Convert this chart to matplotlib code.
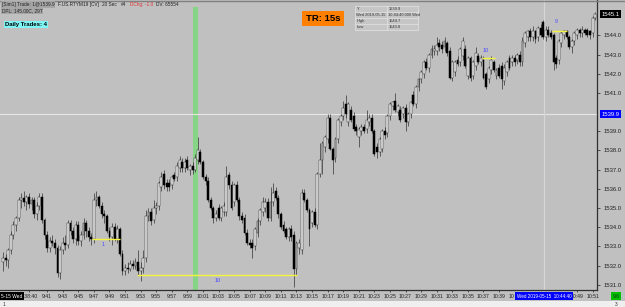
import matplotlib
matplotlib.use("Agg")
import matplotlib.pyplot as plt
from matplotlib.patches import Rectangle
from matplotlib.transforms import blended_transform_factory
import numpy as np

plt.rcParams['font.family'] = ['Liberation Sans', 'DejaVu Sans']

# ---------------- data ----------------
opens = [1532.2,1532.4,1532.3,1532.8,1533.6,1534.1,1534.5,1535.4,1535.5,1535.3,
         1535.6,1535.2,1535.4,1534.7,1535.1,1535.6,1534.4,1533.6,1532.9,1533.3,
         1533.2,1532.9,1531.6,1532.8,1533.2,1533.1,1534.2,1533.8,1533.4,1534.1,
         1533.3,1533.6,1534.2,1533.8,1533.5,1533.4,1535.4,1535.6,1535.1,1534.7,
         1534.6,1533.8,1533.5,1534.0,1533.4,1533.9,1532.6,1531.7,1531.9,1531.8,
         1532.1,1532.0,1532.2,1531.7,1531.9,1532.4,1534.6,1534.8,1534.4,1535.0,
         1535.1,1536.1,1536.8,1536.3,1536.3,1536.2,1536.7,1536.6,1537.1,1537.4,
         1537.1,1537.5,1537.0,1537.2,1537.0,1537.5,1537.9,1537.4,1536.6,1536.4,
         1535.4,1535.0,1534.5,1535.0,1534.5,1534.8,1534.8,1536.7,1536.2,1535.3,
         1536.2,1535.4,1534.6,1534.5,1533.7,1533.2,1533.2,1533.0,1533.7,1534.3,
         1534.8,1535.0,1535.3,1534.5,1535.3,1535.9,1535.5,1534.7,1534.1,1533.9,
         1533.5,1533.9,1533.6,1531.8,1532.9,1532.8,1535.8,1535.4,1534.9,1534.2,
         1534.8,1534.1,1536.8,1537.5,1538.2,1538.6,1539.7,1538.1,1537.6,1538.6,
         1539.5,1539.8,1540.4,1539.5,1540.1,1539.8,1539.2,1538.7,1539.0,1539.2,
         1539.1,1539.5,1539.7,1539.0,1538.2,1537.9,1538.1,1539.0,1538.9,1539.8,
         1540.3,1540.6,1540.0,1540.1,1539.9,1540.2,1539.5,1539.9,1540.9,1540.4,
         1541.3,1541.7,1542.0,1542.6,1542.3,1543.0,1543.2,1543.2,1543.6,1543.5,
         1543.4,1543.6,1543.2,1541.8,1542.1,1542.7,1542.6,1542.9,1543.3,1541.9,
         1542.8,1541.9,1542.4,1542.9,1542.6,1542.7,1542.0,1541.7,1542.2,1542.6,
         1541.9,1542.3,1542.4,1541.6,1542.1,1542.8,1542.6,1542.8,1542.7,1543.0,
         1542.6,1543.6,1543.9,1544.2,1543.9,1544.2,1543.9,1544.4,1544.7,1543.9,
         1544.3,1544.1,1544.0,1542.8,1542.7,1543.6,1544.0,1544.2,1543.9,1543.4,
         1543.7,1544.0,1544.3,1544.1,1544.3,1544.3,1544.2,1544.1,1544.9]
highs = [1532.7,1532.6,1532.9,1533.8,1534.3,1534.6,1535.6,1535.8,1535.9,1535.7,
         1535.8,1535.6,1535.6,1535.3,1535.8,1535.8,1534.5,1533.8,1533.5,1533.6,
         1533.4,1533.1,1533.0,1533.5,1533.6,1534.4,1534.4,1534.0,1534.3,1534.3,
         1533.8,1534.5,1534.4,1534.0,1533.7,1535.8,1535.9,1535.7,1535.3,1534.9,
         1534.7,1534.0,1534.2,1534.2,1534.1,1534.0,1532.8,1532.1,1532.2,1532.3,
         1532.3,1532.4,1532.8,1532.2,1532.8,1534.9,1535.0,1535.0,1535.4,1535.3,
         1536.4,1536.9,1537.0,1536.5,1536.5,1536.7,1536.9,1537.4,1537.7,1537.6,
         1537.6,1537.7,1537.3,1537.4,1537.8,1538.7,1538.1,1537.5,1536.8,1536.6,
         1535.6,1535.1,1534.9,1535.2,1535.1,1535.3,1537.2,1536.9,1536.4,1536.3,
         1536.4,1535.6,1534.8,1534.7,1533.9,1533.4,1533.4,1534.0,1534.5,1535.0,
         1535.6,1535.5,1535.5,1536.1,1536.3,1536.1,1535.7,1534.8,1534.3,1534.0,
         1534.0,1534.1,1533.8,1533.3,1533.4,1536.0,1536.0,1535.5,1535.0,1534.9,
         1535.0,1536.9,1538.4,1538.5,1538.8,1539.9,1539.9,1538.2,1538.7,1539.7,
         1539.9,1540.6,1540.9,1540.5,1540.3,1540.0,1539.4,1539.2,1539.4,1539.4,
         1540.1,1539.9,1539.9,1539.1,1538.4,1538.7,1539.1,1539.2,1539.9,1540.5,
         1540.6,1541.0,1540.4,1540.3,1540.3,1540.4,1540.0,1540.6,1541.1,1541.4,
         1541.8,1542.2,1542.7,1542.8,1543.1,1543.5,1543.5,1543.9,1543.8,1543.7,
         1543.9,1543.7,1543.4,1542.7,1542.7,1542.9,1543.4,1543.9,1543.5,1542.9,
         1542.9,1542.7,1543.4,1543.1,1543.0,1542.9,1542.1,1542.4,1542.9,1542.7,
         1542.3,1542.5,1542.6,1542.5,1542.7,1543.0,1543.0,1543.0,1543.1,1543.2,
         1543.9,1544.2,1544.3,1544.4,1544.5,1544.3,1544.5,1544.6,1544.8,1544.5,
         1544.5,1544.3,1544.1,1543.0,1543.8,1544.2,1544.3,1544.3,1544.0,1543.8,
         1544.2,1544.4,1544.4,1544.5,1544.4,1544.4,1544.3,1545.0,1545.2]
lows = [1531.7,1532.0,1531.9,1532.6,1533.4,1533.8,1534.3,1535.0,1535.1,1534.9,
        1535.0,1534.9,1534.5,1534.4,1534.9,1534.2,1533.4,1532.7,1532.7,1533.0,
        1532.6,1531.4,1531.3,1532.6,1532.8,1532.9,1533.6,1533.2,1533.1,1533.1,
        1533.0,1533.4,1533.5,1533.3,1533.1,1533.2,1535.1,1535.0,1534.5,1534.2,
        1533.7,1533.3,1533.1,1533.3,1533.2,1532.5,1531.5,1531.5,1531.6,1531.7,
        1531.8,1531.8,1531.5,1531.2,1531.6,1532.2,1534.3,1534.1,1534.2,1534.7,
        1534.9,1535.9,1536.0,1535.9,1535.9,1536.0,1536.4,1536.4,1536.9,1536.9,
        1536.9,1537.0,1536.7,1536.8,1536.9,1537.3,1537.3,1536.5,1536.2,1535.3,
        1534.9,1534.2,1534.3,1534.4,1534.3,1534.6,1534.6,1536.0,1534.9,1535.1,
        1535.3,1534.4,1534.2,1533.6,1533.1,1532.9,1532.4,1532.8,1533.5,1534.1,
        1534.6,1534.8,1534.3,1534.3,1535.1,1535.4,1534.5,1533.9,1533.7,1533.4,
        1533.3,1533.3,1530.9,1531.5,1532.6,1532.6,1535.3,1534.8,1533.0,1534.0,
        1534.0,1533.9,1536.6,1536.8,1537.9,1538.4,1538.0,1536.8,1537.4,1538.4,
        1539.3,1539.6,1539.7,1539.3,1539.5,1539.0,1538.8,1538.2,1538.8,1538.9,
        1538.9,1539.3,1538.9,1537.7,1537.6,1537.7,1537.9,1538.6,1538.7,1539.6,
        1540.1,1540.0,1539.8,1539.5,1539.7,1539.0,1539.3,1539.7,1540.3,1540.2,
        1541.1,1541.5,1541.8,1542.2,1542.1,1542.8,1543.0,1543.0,1543.2,1543.1,
        1543.2,1542.9,1541.7,1541.6,1541.9,1542.4,1542.4,1542.7,1542.3,1541.7,
        1541.6,1541.7,1542.2,1542.5,1542.4,1541.7,1541.2,1541.5,1542.0,1542.1,
        1541.7,1541.8,1541.2,1541.4,1541.9,1542.2,1542.4,1542.4,1542.5,1542.4,
        1542.4,1543.4,1543.7,1543.7,1543.7,1543.6,1543.7,1543.9,1543.8,1543.7,
        1543.9,1543.8,1542.2,1542.3,1542.5,1543.4,1543.8,1543.8,1543.3,1543.1,
        1543.5,1543.8,1543.9,1543.9,1544.0,1543.9,1543.8,1543.9,1544.8]
closes = [1532.4,1532.3,1532.8,1533.6,1534.1,1534.5,1535.4,1535.5,1535.3,1535.6,
          1535.2,1535.4,1534.7,1535.1,1535.6,1534.4,1533.6,1532.9,1533.3,1533.2,
          1532.9,1531.6,1532.8,1533.2,1533.1,1534.2,1533.8,1533.4,1534.1,1533.3,
          1533.6,1534.2,1533.8,1533.5,1533.4,1535.4,1535.6,1535.1,1534.7,1534.6,
          1533.8,1533.5,1534.0,1533.4,1533.9,1532.6,1531.7,1531.9,1531.8,1532.1,
          1532.0,1532.2,1531.7,1531.9,1532.4,1534.6,1534.8,1534.3,1535.0,1535.1,
          1536.3,1536.6,1536.2,1536.1,1536.1,1536.6,1536.5,1537.2,1537.5,1537.1,
          1537.4,1537.1,1537.2,1537.0,1537.6,1538.0,1537.4,1536.6,1536.4,1535.4,
          1535.0,1534.5,1534.7,1534.5,1535.0,1535.1,1536.6,1536.2,1535.0,1536.2,
          1535.4,1534.6,1534.4,1533.7,1533.2,1533.1,1532.9,1533.9,1534.3,1534.9,
          1535.3,1535.3,1534.5,1535.3,1535.8,1535.5,1534.7,1534.0,1533.8,1533.5,
          1533.9,1533.5,1531.8,1533.2,1533.2,1535.8,1535.4,1534.9,1533.9,1534.8,
          1534.1,1536.8,1537.5,1538.4,1538.7,1539.7,1538.1,1537.5,1538.6,1539.6,
          1539.8,1540.2,1539.9,1540.4,1539.6,1539.1,1539.0,1539.1,1539.2,1539.0,
          1539.6,1539.7,1539.0,1537.8,1537.9,1538.6,1539.0,1538.8,1539.8,1540.4,
          1540.5,1540.1,1540.3,1539.6,1540.2,1539.5,1539.9,1540.5,1540.4,1541.3,
          1541.7,1542.1,1542.6,1542.3,1543.0,1543.3,1543.3,1543.5,1543.4,1543.3,
          1543.7,1543.1,1541.8,1542.6,1542.6,1542.5,1543.3,1543.7,1542.4,1542.8,
          1541.8,1542.6,1543.1,1542.6,1542.8,1541.8,1541.3,1542.3,1542.7,1542.2,
          1542.2,1541.9,1541.7,1542.3,1542.6,1542.3,1542.8,1542.6,1543.0,1542.6,
          1543.7,1544.1,1544.2,1543.9,1544.2,1543.8,1544.4,1544.0,1543.9,1544.3,
          1544.0,1543.9,1542.6,1542.5,1543.7,1544.1,1544.2,1543.9,1543.4,1543.7,
          1544.1,1544.3,1544.1,1544.3,1544.1,1544.0,1544.0,1544.9,1545.1]

time_tick_bars = [10, 17, 23, 29, 35, 41, 47, 53, 59, 65, 71, 77, 83, 89, 95, 101, 107,
                  113, 119, 125, 131, 137, 143, 149, 155, 161, 167, 173, 179, 185, 191,
                  221, 227]
time_tick_labels = ["9:38:40", "9:41", "9:43", "9:45", "9:47", "9:49", "9:51", "9:53",
                    "9:55", "9:57", "9:59", "10:01", "10:03", "10:05", "10:07", "10:09",
                    "10:11", "10:13", "10:15", "10:17", "10:19", "10:21", "10:23", "10:25",
                    "10:27", "10:29", "10:31", "10:33", "10:35", "10:37", "10:39",
                    "10:49", "10:51"]
price_ticks = [1531.0, 1532.0, 1533.0, 1534.0, 1535.0, 1536.0, 1537.0, 1538.0,
               1539.0, 1541.0, 1542.0, 1543.0, 1544.0]
last_price = 1545.1
cursor_price = 1539.9
cursor_bar = 208.3
highlight_bars = (73.3, 75.1)
# yellow level lines: (start bar, end bar, price, label, label bar, label price)
levels = [(34.2, 45.0, 1533.4, "1", 38.5, 1533.1),
          (51.5, 113.2, 1531.5, "10", 82.7, 1531.2),
          (184.6, 189.6, 1542.8, "10", 186.0, 1543.2),
          (211.2, 217.3, 1544.2, "9", 213.0, 1544.7)]
header_parts = [("[Sim1] Trade: 1@1539.9", "#222222", "#a6a6a6"),
                ("F.US.RTYM19 [CV]", "#222222", None),
                ("20 Sec", "#222222", None),
                ("#4", "#222222", None),
                ("DChg: -1.0", "#e03030", None),
                ("DV: 65554", "#222222", None)]

# ---------------- figure ----------------
W, H = 625, 307
BG = "#c0c0c0"
fig = plt.figure(figsize=(W / 100, H / 100), dpi=100, facecolor=BG)

def fx(px):
    return px / W

def fy(py):
    return 1 - py / H

ax = fig.add_axes([0, fy(290), fx(597), 290 / H])
ax.set_facecolor(BG)

o = np.array(opens); h = np.array(highs); l = np.array(lows); c = np.array(closes)
idx = np.arange(len(o))
up = c >= o

ax.axvspan(highlight_bars[0], highlight_bars[1], ymin=0, ymax=(290 - 7) / 290,
           color="#86d486", lw=0, zorder=1)
ax.axhline(cursor_price, color="#e6e6e6", lw=0.8, zorder=1.5)
ax.axvline(cursor_bar, color="#d6d6d6", lw=0.9, zorder=1.5)

ax.vlines(idx, l, h, color="#4a4a4a", lw=0.6, zorder=2)
body_lo = np.minimum(o, c)
body_h = np.maximum(np.abs(c - o), 0.03)
ax.bar(idx[up], body_h[up], bottom=body_lo[up], width=0.72, color="white",
       edgecolor="#222222", linewidth=0.35, zorder=3)
ax.bar(idx[~up], body_h[~up], bottom=body_lo[~up], width=0.72, color="black",
       edgecolor="black", linewidth=0.35, zorder=3)

for x0, x1, p, lab, lx, lp in levels:
    ax.plot([x0, x1], [p, p], color="#f4f43c", lw=1.0, zorder=4, solid_capstyle="butt")
    ax.text(lx, lp, lab, color="#4b4bff", fontsize=4.0, ha="center", va="center", zorder=5)

ax.set_xlim(-1.15, 228.7)
ax.set_ylim(1530.73, 1545.84)

for s in ["top", "left"]:
    ax.spines[s].set_visible(False)
ax.spines["right"].set_color("#303030")
ax.spines["right"].set_linewidth(0.9)
ax.spines["bottom"].set_color("#303030")
ax.spines["bottom"].set_linewidth(0.9)

ax.yaxis.tick_right()
ax.set_yticks(price_ticks)
ax.set_yticklabels([f"{p:.1f}" for p in price_ticks])
ax.tick_params(axis="y", length=2, width=0.5, pad=2.5, labelsize=4.2,
               colors="#202020")
ax.set_xticks(time_tick_bars)
ax.set_xticklabels(time_tick_labels)
ax.tick_params(axis="x", length=1.5, width=0.5, pad=1.5, labelsize=3.7,
               colors="#202020")

tr = blended_transform_factory(ax.transAxes, ax.transData)
ax.text(1.008, last_price, f"{last_price:.1f}", transform=tr, fontsize=4.2, color="white",
        va="center", ha="left", clip_on=False, zorder=10,
        bbox=dict(boxstyle="square,pad=0.25", fc="black", ec="none"))
ax.text(1.008, cursor_price, f"{cursor_price:.1f}", transform=tr, fontsize=4.2,
        color="white", va="center", ha="left", clip_on=False, zorder=10,
        bbox=dict(boxstyle="square,pad=0.25", fc="#0000ff", ec="none"))

# bottom strip
fig.patches.append(Rectangle((0, 0), 1, 6 / H, transform=fig.transFigure,
                             fc="#efefef", ec="none", zorder=0))
fig.text(fx(3), fy(304), "1", fontsize=3.5, color="#333333", va="center")
fig.text(fx(615), fy(304), "3", fontsize=3.5, color="#333333", va="center")

fig.text(fx(1), fy(296), "5-15 Wed", fontsize=3.5, color="white", va="center", ha="left",
         bbox=dict(boxstyle="square,pad=0.3", fc="black", ec="none"), zorder=10)
fig.text(fx(514), fy(296), "10", fontsize=3.7, color="#202020", va="center", ha="right")
fig.text(fx(544), fy(296), "Wed 2019-05-15  10:44:40", fontsize=3.3, color="white",
         va="center", ha="center",
         bbox=dict(boxstyle="square,pad=0.3", fc="#0000ff", ec="none"), zorder=10)
fig.text(fx(616), fy(296), "9.6", fontsize=3.6, color="#103010", va="center", ha="center",
         bbox=dict(boxstyle="square,pad=0.3", fc="#00c000", ec="none"), zorder=10)

# header (laid out left to right using measured text widths)
fig.lines.append(plt.Line2D([0, 1], [fy(0.5), fy(0.5)], transform=fig.transFigure,
                            color="#808080", lw=1.0))
hdr_fs = 3.4
renderer = fig.canvas.get_renderer()
xpos = 2.0
for txt, col, bg in header_parts:
    kw = {}
    if bg:
        kw["bbox"] = dict(boxstyle="square,pad=0.15", fc=bg, ec="none")
    t = fig.text(fx(xpos), fy(4.5), txt, fontsize=hdr_fs, color=col, va="center",
                 ha="left", **kw)
    wpx = t.get_window_extent(renderer=renderer).width
    xpos += wpx + 3.5
fig.text(fx(2), fy(11), "DPL: 145.00C, 29T", fontsize=hdr_fs, color="#222222",
         va="center", ha="left", bbox=dict(boxstyle="square,pad=0.15", fc="#a6a6a6", ec="none"))

fig.text(fx(5), fy(24.5), "Daily Trades: 4", fontsize=4.3, color="black", weight="bold",
         va="center", ha="left", bbox=dict(boxstyle="square,pad=0.25", fc="#7ff5f5", ec="none"))

fig.text(fx(323), fy(18.5), "TR: 15s", fontsize=6.8, color="black", weight="bold",
         family=["Liberation Sans Narrow", "Liberation Sans", "DejaVu Sans"],
         va="center", ha="center",
         bbox=dict(boxstyle="square,pad=0.35", fc="#ff8000", ec="none"))

# info table
tbl_rows = [("Y", "1539.9"), ("Wed 2019-05-15", "10:44:40.000 Wed"),
            ("High", "1544.7"), ("Low", "1543.8")]
tx0, tx1, tx2 = 355, 387, 418
ty0, rh = 5.5, 6.2
fig.patches.append(Rectangle((fx(tx0), fy(ty0 + rh * 4)), fx(tx2 - tx0), rh * 4 / H,
                             transform=fig.transFigure, fc="#c6c6c6", ec="#e4e4e4", lw=0.5))
for k, (a, b) in enumerate(tbl_rows):
    yc = ty0 + rh * (k + 0.5)
    if k > 0:
        fig.lines.append(plt.Line2D([fx(tx0), fx(tx2)], [fy(ty0 + rh * k)] * 2,
                                    transform=fig.transFigure, color="#e4e4e4", lw=0.5))
    fig.text(fx(tx0 + 1.5), fy(yc), a, fontsize=2.9, color="#333333", va="center", ha="left")
    fig.text(fx(tx1 + 1.5), fy(yc), b, fontsize=2.9, color="#333333", va="center", ha="left")
fig.lines.append(plt.Line2D([fx(tx1), fx(tx1)], [fy(ty0), fy(ty0 + rh * 4)],
                            transform=fig.transFigure, color="#e4e4e4", lw=0.5))

fig.savefig("out.png", dpi=100, facecolor=BG)
